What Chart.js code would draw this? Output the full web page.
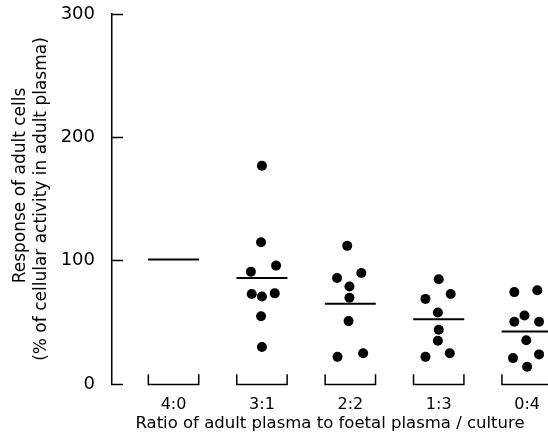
<!DOCTYPE html>
<html>
<head>
<meta charset="utf-8">
<script src="https://cdn.jsdelivr.net/npm/chart.js@4/dist/chart.umd.min.js"></script>
<style>
  html, body { margin: 0; padding: 0; background: #fff; }
  #wrap { width: 548px; height: 438px; }
</style>
</head>
<body>
<div id="wrap"><canvas id="chart" width="548" height="438"></canvas></div>
<script>
// ---------- data ----------
const ratios = ["4:0", "3:1", "2:2", "1:3", "0:4"];
const means = [101, 86, 65, 52.5, 42.5];
const yTicks = [0, 100, 200, 300];

// responses per ratio (4:0 has no individual points)
const resp31 = [177, 115, 96, 91, 73, 71, 73.5, 55, 30];
const resp22 = [112, 86, 90, 79, 70, 51, 22, 25];
const resp13 = [85, 69, 73, 58, 44, 35, 22, 25];
const resp04 = [74.5, 76, 50.5, 55.5, 50.5, 35.5, 21, 24, 14];

// sideways spread of each dot (in category widths)
const side31 = [0, -0.01, 0.16, -0.125, -0.115, 0, 0.145, -0.01, 0];
const side22 = [-0.035, -0.15, 0.125, -0.01, -0.01, -0.02, -0.145, 0.145];
const side13 = [0, -0.15, 0.135, -0.01, 0, -0.01, -0.15, 0.125];
const side04 = [-0.145, 0.115, -0.145, -0.03, 0.135, -0.01, -0.16, 0.135, 0];

const FONT = "'DejaVu Sans', sans-serif";

function dots(cat, vals, side) {
  return vals.map((v, i) => ({ x: cat + side[i], y: v }));
}

// bracket under each ratio group
const brackets = {
  id: "brackets",
  afterDatasetsDraw(chart) {
    const { ctx, scales: { x, y } } = chart;
    const yb = y.getPixelForValue(0) + 0.5;
    const yt = y.getPixelForValue(8);
    ctx.save();
    ctx.strokeStyle = "#000";
    ctx.lineWidth = 1.5;
    ratios.forEach((_, i) => {
      const xl = x.getPixelForValue(i + 1 - 0.285);
      const xr = x.getPixelForValue(i + 1 + 0.285);
      ctx.beginPath();
      ctx.moveTo(xl, yt);
      ctx.lineTo(xl, yb);
      ctx.lineTo(xr, yb);
      ctx.lineTo(xr, yt);
      ctx.stroke();
    });
    ctx.restore();
  },
};

document.addEventListener("DOMContentLoaded", () => {
  const pts = [
    ...dots(2, resp31, side31),
    ...dots(3, resp22, side22),
    ...dots(4, resp13, side13),
    ...dots(5, resp04, side04),
  ];

  new Chart(document.getElementById("chart").getContext("2d"), {
    type: "scatter",
    data: {
      datasets: [
        {
          data: means.map((m, i) => ({ x: i + 1, y: m })),
          pointStyle: "line",
          pointRadius: 25.5,
          pointBorderWidth: 2,
          pointBorderColor: "#000",
          pointHoverRadius: 25.5,
        },
        {
          data: pts,
          pointStyle: "circle",
          pointRadius: 5,
          pointBorderWidth: 0,
          pointBackgroundColor: "#000",
          pointBorderColor: "#000",
        },
      ],
    },
    options: {
      responsive: false,
      animation: false,
      events: [],
      clip: false,
      layout: {
        autoPadding: false,
        padding: { top: 14, right: 0, bottom: 0, left: 0 },
      },
      plugins: { legend: { display: false }, tooltip: { enabled: false } },
      scales: {
        x: {
          type: "linear",
          min: 0.304,
          max: 5.236,
          grid: { display: false },
          border: { display: false },
          afterBuildTicks: (s) => {
            s.ticks = ratios.map((_, i) => ({ value: i + 1 }));
          },
          afterFit: (s) => {
            s.height = 54;
            s.paddingLeft = 0;
            s.paddingRight = 0;
          },
          ticks: {
            color: "#000",
            font: { family: FONT, size: 16 },
            padding: 3,
            maxRotation: 0,
            autoSkip: false,
            callback: (v) => ratios[v - 1],
          },
          title: {
            display: true,
            text: "Ratio of adult plasma to foetal plasma / culture",
            color: "#000",
            font: { family: FONT, size: 16.5 },
            padding: { top: 0, bottom: 4 },
          },
        },
        y: {
          min: 0,
          max: 300,
          afterBuildTicks: (s) => {
            s.ticks = yTicks.map((v) => ({ value: v }));
          },
          afterFit: (s) => {
            s.width = 112;
            s.paddingTop = 0;
            s.paddingBottom = 0;
          },
          grid: {
            drawOnChartArea: false,
            tickLength: -11,
            tickWidth: 1.5,
            tickColor: "#000",
          },
          border: { display: true, color: "#000", width: 1.5 },
          ticks: {
            color: "#000",
            font: { family: FONT, size: 18 },
            padding: 28,
          },
          title: {
            display: true,
            text: ["     Response of adult cells", "(% of cellular activity in adult plasma)"],
            color: "#000",
            font: { family: FONT, size: 17, lineHeight: 1.18 },
            padding: { top: 11, bottom: 0 },
          },
        },
      },
    },
    plugins: [brackets],
  });
});
</script>
</body>
</html>
